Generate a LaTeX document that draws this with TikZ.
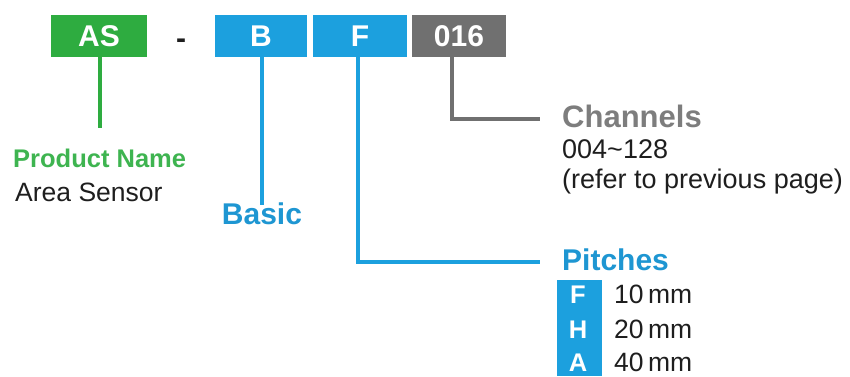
\documentclass[tikz,border=0pt]{standalone}
\usepackage{fontspec}
\setmainfont{Liberation Sans}
\definecolor{cgreen}{RGB}{46,172,64}
\definecolor{cgreentxt}{RGB}{62,180,80}
\definecolor{cblue}{RGB}{28,160,222}
\definecolor{cbluetxt}{RGB}{30,150,210}
\definecolor{cgray}{RGB}{112,112,112}
\definecolor{cgraytxt}{RGB}{125,125,125}
\definecolor{ctxt}{RGB}{30,30,30}
\tikzset{
  codebox/.style={inner sep=0pt, text=white, font=\fontsize{30pt}{34pt}\selectfont\bfseries},
  link/.style={line width=4pt},
  lbl/.style={inner sep=0pt, anchor=base west},
  bigbold/.style={font=\fontsize{30pt}{34pt}\selectfont\bfseries},
  chbold/.style={font=\fontsize{31pt}{34pt}\selectfont\bfseries},
  midbold/.style={font=\fontsize{25.5pt}{30pt}\selectfont\bfseries},
  plain/.style={font=\fontsize{26.5pt}{30pt}\selectfont, text=ctxt},
  plainb/.style={font=\fontsize{27pt}{30pt}\selectfont, text=ctxt},
}
\begin{document}
\begin{tikzpicture}[x=1pt,y=-1pt]
\useasboundingbox (0,0) rectangle (850,376);
% code boxes
\path[fill=cgreen] (51,15) rectangle (147,57);
\node[codebox] (AS) at (99,36) {AS};
\node[inner sep=0pt, anchor=base, font=\fontsize{30pt}{34pt}\selectfont\bfseries, text=ctxt] (dash) at (181,48) {-};
\path[fill=cblue] (215,15) rectangle (307,57);
\node[codebox] (B) at (261,36) {B};
\path[fill=cblue] (313,15) rectangle (407,57);
\node[codebox] (F) at (360,36) {F};
\path[fill=cgray] (412,15) rectangle (506,57);
\node[codebox] (C) at (459,36) {016};
% coordinates
\coordinate (ASt) at (99.5,57);
\coordinate (ASe) at (99.5,128);
\coordinate (Bt) at (262,57);
\coordinate (Be) at (262,205);
\coordinate (Ft) at (358,57);
\coordinate (Fc) at (358,262);
\coordinate (Fe) at (540,262);
\coordinate (Ct) at (452,57);
\coordinate (Cc) at (452,119);
\coordinate (Ce) at (540,119);
% connectors
\draw[link, cgreen] (ASt) -- (ASe);
\draw[link, cblue] (Bt) -- (Be);
\draw[link, cblue] (Ft) -- (Fc) -- (Fe);
\draw[link, cgray] (Ct) -- (Cc) -- (Ce);
% product name
\node[lbl, midbold, text=cgreentxt] (pn) at (13,167) {Product Name};
\node[lbl, plain] (as) at (15,201) {Area Sensor};
% basic
\node[inner sep=0pt, anchor=base, bigbold, text=cbluetxt] (basic) at (262,224) {Basic};
% channels
\node[lbl, chbold, text=cgraytxt] (ch) at (562,127) {Channels};
\node[lbl, plainb] (ch1) at (562,158) {004\char"007E 128};
\node[lbl, plainb] (ch2) at (562,188) {(refer to previous page)};
% pitches
\node[lbl, bigbold, text=cbluetxt] (pi) at (562,270) {Pitches};
\path[fill=cblue] (557,280) rectangle (602,376);
\node[inner sep=0pt, anchor=base, midbold, text=white] (pF) at (578,303) {F};
\node[inner sep=0pt, anchor=base, midbold, text=white] (pH) at (578,338) {H};
\node[inner sep=0pt, anchor=base, midbold, text=white] (pA) at (578,371) {A};
\node[lbl, plain] (v1) at (614,303) {10\,mm};
\node[lbl, plain] (v2) at (614,338) {20\,mm};
\node[lbl, plain] (v3) at (614,371) {40\,mm};
\end{tikzpicture}
\end{document}
